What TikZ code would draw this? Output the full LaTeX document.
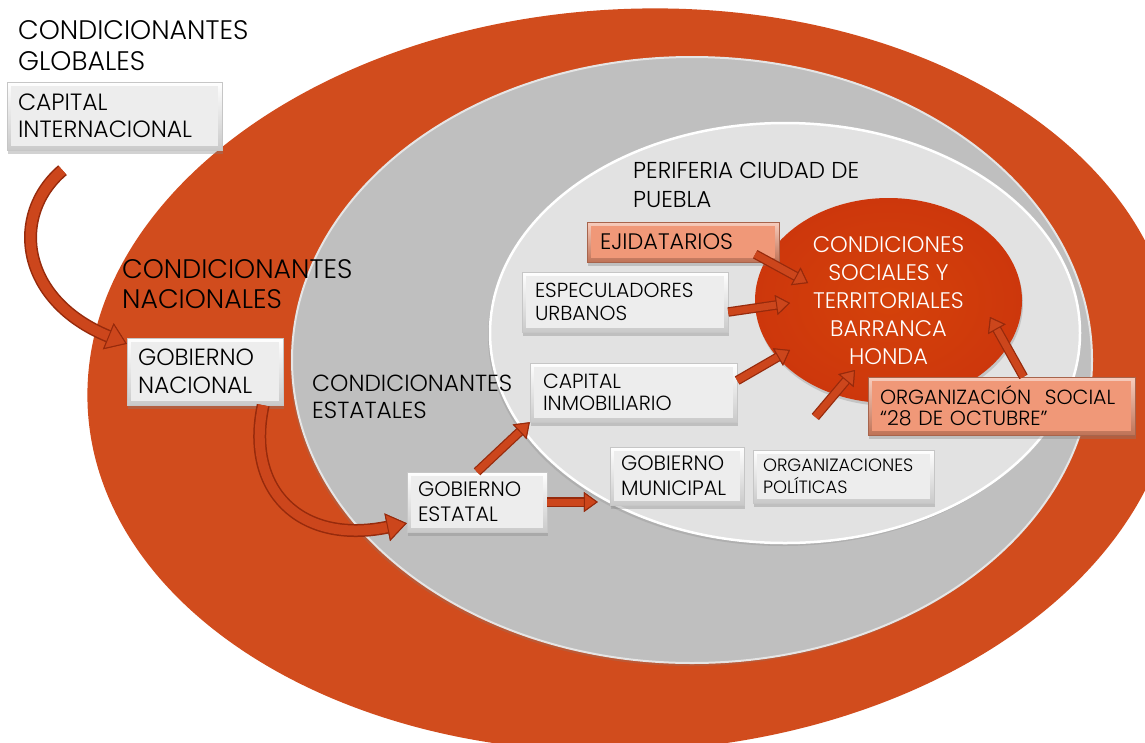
\documentclass[tikz,border=0pt]{standalone}
\usepackage{fontspec}
\setmainfont{Poppins}[UprightFont = * Light]
\usetikzlibrary{shapes.geometric, arrows.meta, shadows}

\definecolor{ringorange}{RGB}{209,76,29}
\definecolor{ringgrey}{RGB}{191,191,191}
\definecolor{coregrey}{RGB}{226,226,226}
\definecolor{corered}{RGB}{205,55,12}
\definecolor{peach}{RGB}{239,143,108}
\definecolor{arrowfill}{RGB}{204,70,28}
\definecolor{arrowedge}{RGB}{150,42,12}

\newcommand{\fsz}[2]{\fontsize{#1}{#2}\selectfont}

\tikzset{
    heading/.style = {anchor = west, inner sep = 0pt, align = left, text = black},
    greybox/.style = {draw = gray!45, top color = white, bottom color = gray!42, align = left,
        inner xsep = 11pt, inner ysep = 0pt, text = black,
        path picture = {\fill [gray!14] ([shift = {(4pt, -4pt)}]path picture bounding box.north west)
            rectangle ([shift = {(-4pt, 4pt)}]path picture bounding box.south east);},
        drop shadow = {shadow xshift = 1pt, shadow yshift = -4pt, opacity = 0.35}},
    peachbox/.style = {greybox, draw = peach!70!black, top color = peach!45!white, bottom color = peach!80!black,
        path picture = {\fill [peach!92!white] ([shift = {(4pt, -4pt)}]path picture bounding box.north west)
            rectangle ([shift = {(-4pt, 4pt)}]path picture bounding box.south east);}},
    flow/.style = {draw = arrowfill, line width = 7pt,
        -{Triangle[width = 20pt, length = 14pt, line width = 1pt, color = arrowedge, fill = arrowfill]},
        preaction = {draw = arrowedge, line width = 9.5pt}},
    bigflow/.style = {draw = arrowfill, line width = 10pt,
        -{Triangle[width = 28pt, length = 20pt, line width = 1pt, color = arrowedge, fill = arrowfill]},
        preaction = {draw = arrowedge, line width = 13pt}}
}

\begin{document}
\begin{tikzpicture}[x = 1pt, y = -1pt]
    \useasboundingbox (0, 0) rectangle (1145, 742);
    \clip (0, 0) rectangle (1145, 742);
    \fill [white] (0, 0) rectangle (1145, 742);

    \fill [ringorange, rotate around = {3:(632, 380)}] (632, 380) ellipse [x radius = 545pt, y radius = 371pt];
    \fill [ringgrey, draw = white!60!ringgrey, line width = 2pt,
        drop shadow = {opacity = 0.25, shadow xshift = -2pt, shadow yshift = -3pt}]
        (692, 360) ellipse [x radius = 400pt, y radius = 303pt];
    \fill [coregrey, draw = white, line width = 2.5pt,
        drop shadow = {opacity = 0.25, shadow xshift = -2pt, shadow yshift = -3pt}]
        (785, 333) ellipse [x radius = 295pt, y radius = 210pt];

    \node [ellipse, inner color = corered!85!orange, outer color = corered, minimum width = 267pt,
        minimum height = 205pt, inner sep = 0pt, text = white, align = center, font = \fsz{22.5}{28},
        drop shadow = {opacity = 0.3, shadow xshift = 1pt, shadow yshift = -3pt}]
        (cond) at (888.5, 300.5) {CONDICIONES\\SOCIALES Y\\TERRITORIALES\\BARRANCA\\HONDA};

    \node [heading, font = \fsz{26.8}{31}] (glob) at (18, 46) {CONDICIONANTES\\GLOBALES};
    \node [heading, font = \fsz{26.8}{30}] (nac) at (122, 284) {CONDICIONANTES\\NACIONALES};
    \node [heading, font = \fsz{23.3}{26.7}] (est) at (312, 397) {CONDICIONANTES\\ESTATALES};
    \node [heading, font = \fsz{23}{29}] (peri) at (633, 185) {PERIFERIA CIUDAD DE\\PUEBLA};

    \node [greybox, text width = 193pt, minimum height = 68pt, font = \fsz{23.5}{26.7}]
        (capint) at (114.5, 116) {CAPITAL\\INTERNACIONAL};
    \node [greybox, text width = 134pt, minimum height = 67pt, font = \fsz{23.4}{28}]
        (gobnac) at (205, 371.5) {GOBIERNO\\NACIONAL};
    \node [greybox, text width = 118pt, minimum height = 60pt, font = \fsz{20.8}{25}]
        (gobest) at (477, 502) {GOBIERNO\\ESTATAL};
    \node [greybox, text width = 112pt, minimum height = 58pt, font = \fsz{20.8}{25}]
        (gobmun) at (677, 476) {GOBIERNO\\MUNICIPAL};
    \node [greybox, inner xsep = 10pt, text width = 161pt, minimum height = 53pt, font = \fsz{17.8}{21.5}]
        (orgpol) at (843.5, 476.5) {ORGANIZACIONES\\POLÍTICAS};
    \node [greybox, inner xsep = 13pt, text width = 181pt, minimum height = 59pt, font = \fsz{20.5}{21.5}]
        (capinm) at (633.5, 392.5) {CAPITAL\\INMOBILIARIO};
    \node [greybox, inner xsep = 13pt, text width = 180pt, minimum height = 60pt, font = \fsz{20.3}{23}]
        (espurb) at (625, 302) {ESPECULADORES\\URBANOS};
    \node [peachbox, inner xsep = 13pt, text width = 166pt, minimum height = 40pt, font = \fsz{22.4}{26}]
        (ejid) at (683, 242) {EJIDATARIOS};
    \node [peachbox, inner xsep = 12pt, text width = 243pt, minimum height = 58pt, font = \fsz{20.5}{21}]
        (orgsoc) at (1001.5, 406) {ORGANIZACIÓN\ \ SOCIAL\\“28 DE OCTUBRE”};

    \coordinate (e1) at (808, 283);
    \coordinate (e2) at (790, 303);
    \coordinate (e3) at (790, 350);
    \coordinate (e4) at (855, 370);
    \coordinate (e5) at (990, 317);

    \draw [bigflow] ([xshift = -52pt, yshift = -20pt]capint.south)
        .. controls (10, 215) and (20, 300) .. ([yshift = -6pt]gobnac.north west);
    \draw [bigflow] ([xshift = -20pt]gobnac.south east)
        .. controls (245, 490) and (300, 545) .. ([yshift = 9pt]gobest.south west);
    \draw [flow] (gobest.north) -- (capinm.south west);
    \draw [flow, shorten > = 12pt] (gobest.east) -- (gobest.east -| gobmun.west);
    \draw [flow] ([xshift = -24pt, yshift = 8pt]ejid.south east) -- (e1);
    \draw [flow] ([yshift = -10pt]espurb.east) -- (e2);
    \draw [flow] ([yshift = 12pt]capinm.east) -- (e3);
    \draw [flow, shorten < = 43pt] ([xshift = -56pt]orgpol.north) -- (e4);
    \draw [flow] ([xshift = 22pt]orgsoc.north) -- (e5);
\end{tikzpicture}
\end{document}
